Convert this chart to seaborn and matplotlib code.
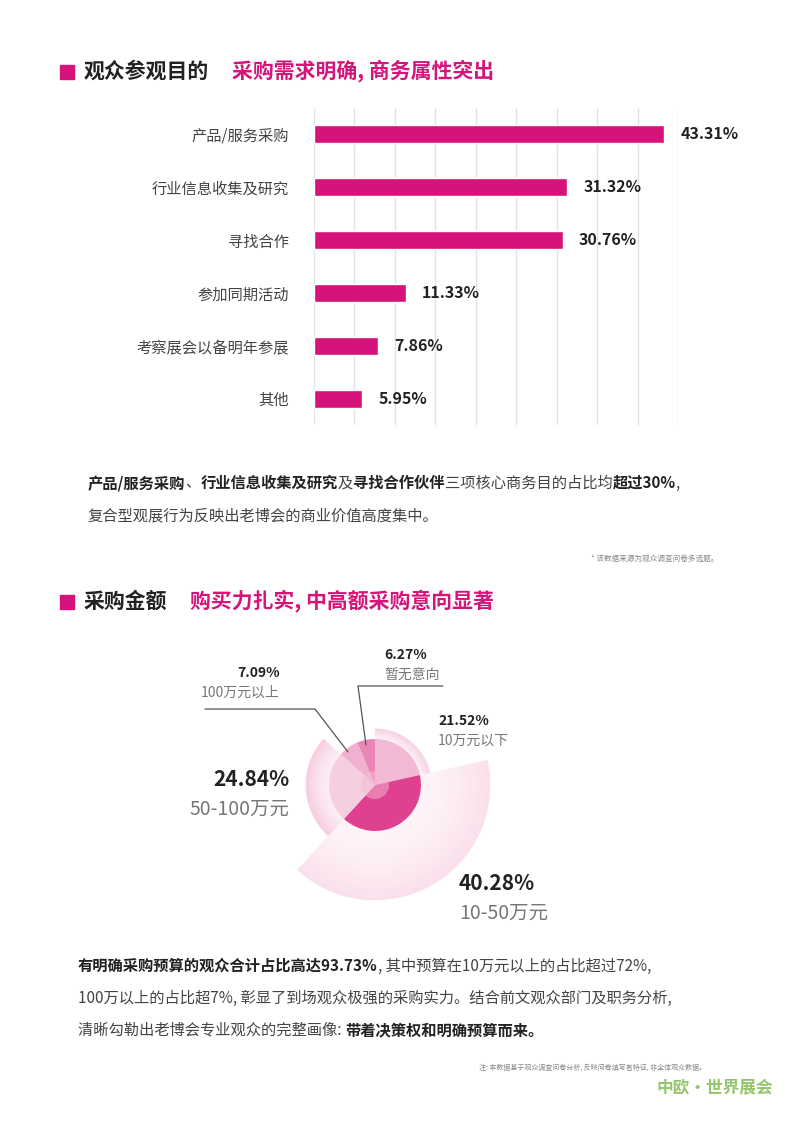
import matplotlib
matplotlib.use("Agg")
import matplotlib.pyplot as plt
import seaborn as sns
import numpy as np
import pandas as pd
from matplotlib.patches import Wedge, Rectangle

sns.set_theme(style="white")
plt.rcParams['font.family'] = ['Noto Sans CJK SC', 'DejaVu Sans']

categories = ["产品/服务采购", "行业信息收集及研究", "寻找合作", "参加同期活动", "考察展会以备明年参展", "其他"]
values = [43.31, 31.32, 30.76, 11.33, 7.86, 5.95]

pie_labels = ["10万元以下", "10-50万元", "50-100万元", "100万元以上", "暂无意向"]
pie_values = [21.52, 40.28, 24.84, 7.09, 6.27]
pie_outer = [1.22, 2.5, 1.5, 1.0, 1.0]

MAG = "#D6137A"
W, H = 800, 1131
fig = plt.figure(figsize=(8, 11.31), dpi=100)
renderer = fig.canvas.get_renderer()

def fx(x): return x / W
def fy(y): return 1 - y / H

def rich(x, y, parts, fs=11):
    cur = x
    for s, b in parts:
        t = fig.text(fx(cur), fy(y), s, fontsize=fs, fontweight="bold" if b else "normal",
                     color="#222222" if b else "#444444", va="center")
        bb = t.get_window_extent(renderer)
        cur += bb.width

# Section 1 header
fig.patches.append(Rectangle((fx(60), fy(79)), 14/W, 14/H, transform=fig.transFigure, color=MAG))
fig.text(fx(84), fy(71), "观众参观目的", fontsize=15, fontweight="bold", color="#222222", va="center")
fig.text(fx(232), fy(71), "采购需求明确, 商务属性突出", fontsize=15, fontweight="bold", color=MAG, va="center")

# Bar chart
ax = fig.add_axes([fx(314), fy(425), (678 - 314) / W, (425 - 108) / H])
df = pd.DataFrame({"cat": categories, "val": values})
sns.barplot(data=df, y="cat", x="val", ax=ax, color=MAG, width=0.34, saturation=1, orient="h")
ax.set_xlim(0, 45)
ax.set_xticks(np.arange(0, 46, 5))
ax.grid(axis="x", color="#e3e3e3", lw=1)
ax.set_axisbelow(True)
for s in ax.spines.values(): s.set_visible(False)
ax.set_xlabel(""); ax.set_ylabel("")
ax.tick_params(axis="x", length=0, labelbottom=False)
ax.tick_params(axis="y", length=0, labelsize=11, labelcolor="#444444", pad=18)
for i, v in enumerate(values):
    ax.text(v + 2, i, f"{v:.2f}%", va="center", ha="left", fontsize=11.5, fontweight="bold", color="#222222")

rich(88, 483, [("产品/服务采购", True), ("、", False), ("行业信息收集及研究", True), ("及", False),
               ("寻找合作伙伴", True), ("三项核心商务目的占比均", False), ("超过30%", True), (",", False)])
fig.text(fx(88), fy(516), "复合型观展行为反映出老博会的商业价值高度集中。", fontsize=11, color="#444444", va="center")
fig.text(fx(718), fy(559), "* 该数据来源为观众调查问卷多选题。", fontsize=5.5, color="#888888", va="center", ha="right")

# Section 2 header
fig.patches.append(Rectangle((fx(60), fy(609)), 14/W, 14/H, transform=fig.transFigure, color=MAG))
fig.text(fx(84), fy(601), "采购金额", fontsize=15, fontweight="bold", color="#222222", va="center")
fig.text(fx(190), fy(601), "购买力扎实, 中高额采购意向显著", fontsize=15, fontweight="bold", color=MAG, va="center")

# Pie
cx, cy, R = 375, 785, 46
half = 200
pax = fig.add_axes([fx(cx - half), fy(cy + half), 2 * half / W, 2 * half / H])
pax.set_xlim(-half, half); pax.set_ylim(-half, half); pax.set_aspect("equal"); pax.axis("off")
outer_cols = ["#f8d3e4", "#fbe0ec", "#f7cde0", "#f3bcd6", "#ea8fbb"]
inner_cols = ["#f1b9d3", "#e0418f", "#f5cfe0", "#f0b0cf", "#e886b6"]
ang = 90.0
for v, ro, co, ci in zip(pie_values, pie_outer, outer_cols, inner_cols):
    a1 = ang - v * 3.6
    if ro > 1.0:
        n = 30
        for k in range(n):
            r0 = R + (ro * R - R) * k / n
            r1 = R + (ro * R - R) * (k + 1) / n
            shade = 0.35 + 0.65 * ((k + 1) / n) ** 1.5
            col = np.array(matplotlib.colors.to_rgb(co))
            col = 1 - (1 - col) * shade
            pax.add_patch(Wedge((0, 0), r1 + 0.3, a1, ang, width=r1 - r0 + 0.6, facecolor=col, edgecolor="none"))
    pax.add_patch(Wedge((0, 0), R, a1, ang, facecolor=ci, edgecolor="none"))
    ang = a1
pax.add_patch(Wedge((0, 0), 14, 0, 360, facecolor="#f3bcd6", edgecolor="none", alpha=0.5))

# leader lines
fig.add_artist(plt.Line2D([fx(205), fx(315), fx(348)], [fy(709), fy(709), fy(752)], color="#555555", lw=0.9))
fig.add_artist(plt.Line2D([fx(443), fx(358), fx(366)], [fy(686), fy(686), fy(745)], color="#555555", lw=0.9))

fig.text(fx(384), fy(655), "6.27%", fontsize=10, fontweight="bold", color="#222222", ha="left", va="center")
fig.text(fx(384), fy(675), "暂无意向", fontsize=10, color="#777777", ha="left", va="center")
fig.text(fx(280), fy(673), "7.09%", fontsize=10, fontweight="bold", color="#222222", ha="right", va="center")
fig.text(fx(280), fy(693), "100万元以上", fontsize=10, color="#777777", ha="right", va="center")
fig.text(fx(438), fy(721), "21.52%", fontsize=10, fontweight="bold", color="#222222", ha="left", va="center")
fig.text(fx(438), fy(741), "10万元以下", fontsize=10, color="#777777", ha="left", va="center")
fig.text(fx(289), fy(779), "24.84%", fontsize=15, fontweight="bold", color="#222222", ha="right", va="center")
fig.text(fx(289), fy(809), "50-100万元", fontsize=14, color="#777777", ha="right", va="center")
fig.text(fx(459), fy(884), "40.28%", fontsize=15, fontweight="bold", color="#222222", ha="left", va="center")
fig.text(fx(459), fy(913), "10-50万元", fontsize=14, color="#777777", ha="left", va="center")

rich(78, 966, [("有明确采购预算的观众合计占比高达93.73%", True), (", 其中预算在10万元以上的占比超过72%,", False)])
rich(78, 998, [("100万以上的占比超7%, 彰显了到场观众极强的采购实力。结合前文观众部门及职务分析,", False)])
rich(78, 1030, [("清晰勾勒出老博会专业观众的完整画像: ", False), ("带着决策权和明确预算而来。", True)])
fig.text(fx(706), fy(1068), "注: 本数据基于观众调查问卷分析, 反映问卷填写者特征, 非全体观众数据。",
         fontsize=5, color="#888888", ha="right", va="center")
fig.text(fx(715), fy(1088), "中欧·世界展会", fontsize=12, fontweight="bold", color="#7ab648", ha="center", va="center", alpha=0.8)

fig.savefig("out.png", dpi=100, facecolor="white")
